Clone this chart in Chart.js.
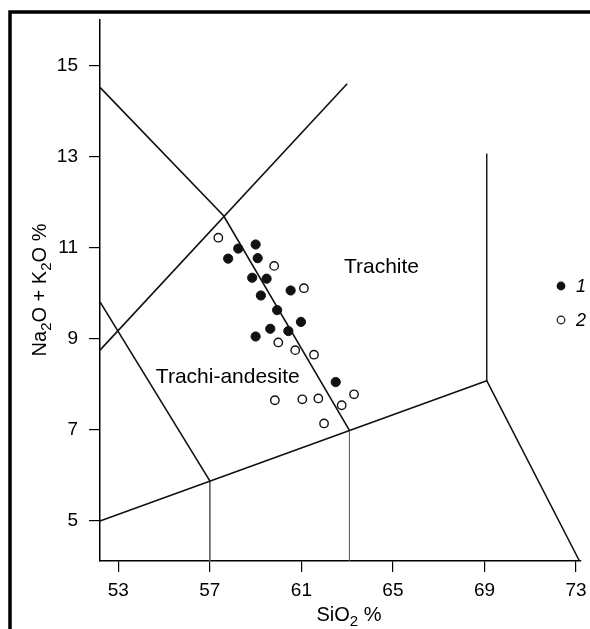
<!DOCTYPE html>
<html>
<head>
<meta charset="utf-8">
<script src="https://cdn.jsdelivr.net/npm/chart.js@4.4.1/dist/chart.umd.min.js"></script>
<style>
    html, body { margin: 0; padding: 0; background: #fff; }
    #wrap { width: 590px; height: 629px; }
</style>
</head>
<body>
<div id="wrap"><canvas id="tasChart" width="590" height="629"></canvas></div>
<script>
/**
 * SiO2 vs Na2O + K2O classification diagram
 */

const FONT = '"Liberation Sans", Arial, sans-serif';

// Tick labels
const xTicks = [53, 57, 61, 65, 69, 73];
const yTicks = [5, 7, 9, 11, 13, 15];

// Samples (SiO2 %, Na2O + K2O %)
const seriesLabels = ['1', '2'];
const group1SiO2 = [58.24, 59.0, 57.8, 59.09, 58.85, 59.48, 60.53, 59.23, 59.94, 60.98, 59.64, 60.43, 59.0, 62.5];
const group1Alk  = [10.98, 11.07, 10.76, 10.77, 10.34, 10.32, 10.06, 9.95, 9.63, 9.37, 9.22, 9.17, 9.05, 8.05];
const group2SiO2 = [57.37, 59.81, 61.11, 59.99, 60.73, 61.55, 63.3, 62.76, 59.84, 61.04, 61.74, 61.99];
const group2Alk  = [11.22, 10.6, 10.11, 8.92, 8.75, 8.65, 7.78, 7.54, 7.65, 7.67, 7.69, 7.14];

// Field boundaries, vertices as [SiO2, Na2O + K2O]
const boundaryUpper = [[52.2, 14.52], [57.6, 11.7], [63.1, 6.99]];
const boundaryRising = [[52.2, 8.75], [63.0, 14.6]];
const boundaryLeft = [[52.2, 9.81], [57.0, 5.88]];
const boundaryLower = [[52.2, 5.0], [69.1, 8.08], [73.15, 4.12]];
const boundaryRight = [[69.1, 13.07], [69.1, 8.08]];
const dropLines = [[[57.0, 5.88], [57.0, 4.12]], [[63.1, 6.99], [63.1, 4.12]]];

// Field names
const fieldNames = ['Trachite', 'Trachi-andesite'];
const fieldAnchors = [[62.86, 10.44], [54.64, 8.02]];

function toPoints(xs, ys) {
    return xs.map((x, i) => ({ x: x, y: ys[i] }));
}

function toLine(verts) {
    return verts.map(v => ({ x: v[0], y: v[1] }));
}

function lineDataset(verts, color, width) {
    return {
        type: 'scatter',
        data: toLine(verts),
        showLine: true,
        borderColor: color,
        borderWidth: width,
        pointRadius: 0,
        fill: false,
        tension: 0,
        clip: false
    };
}

// draws text with subscripts, centred on x=0 of the current transform
function drawRich(ctx, parts, size, baseline) {
    const subSize = Math.round(size * 0.75);
    let total = 0;
    parts.forEach(p => {
        ctx.font = `${p[1] ? subSize : size}px ${FONT}`;
        total += ctx.measureText(p[0]).width;
    });
    let x = -total / 2;
    ctx.textAlign = 'left';
    ctx.textBaseline = 'alphabetic';
    parts.forEach(p => {
        ctx.font = `${p[1] ? subSize : size}px ${FONT}`;
        ctx.fillText(p[0], x, baseline + (p[1] ? 5 : 0));
        x += ctx.measureText(p[0]).width;
    });
}

const annotate = {
    id: 'annotate',
    beforeDraw(chart) {
        const ctx = chart.ctx;
        ctx.save();
        ctx.fillStyle = '#fff';
        ctx.fillRect(0, 0, chart.width, chart.height);
        // scanned frame, top and left edges
        ctx.strokeStyle = '#000';
        ctx.lineWidth = 3.5;
        ctx.beginPath();
        ctx.moveTo(10, chart.height);
        ctx.lineTo(10, 12);
        ctx.lineTo(chart.width, 12);
        ctx.stroke();
        ctx.restore();
    },
    afterDraw(chart) {
        const ctx = chart.ctx;
        const xs = chart.scales.x, ys = chart.scales.y;
        ctx.save();
        ctx.fillStyle = '#000';

        // axis titles
        ctx.save();
        ctx.translate(349, 0);
        drawRich(ctx, [['SiO', 0], ['2', 1], [' %', 0]], 20, 621);
        ctx.restore();

        ctx.save();
        ctx.translate(46, 290);
        ctx.rotate(-Math.PI / 2);
        drawRich(ctx, [['Na', 0], ['2', 1], ['O + K', 0], ['2', 1], ['O %', 0]], 20, 0);
        ctx.restore();

        // field names
        ctx.font = `21px ${FONT}`;
        ctx.textAlign = 'left';
        ctx.textBaseline = 'alphabetic';
        fieldNames.forEach((name, i) => {
            ctx.fillText(name, xs.getPixelForValue(fieldAnchors[i][0]), ys.getPixelForValue(fieldAnchors[i][1]));
        });

        // legend
        const rows = [286, 320];
        seriesLabels.forEach((label, i) => {
            const ds = chart.data.datasets[i];
            ctx.beginPath();
            ctx.arc(561, rows[i], 3.8, 0, Math.PI * 2);
            ctx.fillStyle = ds.backgroundColor;
            ctx.fill();
            ctx.lineWidth = 1.2;
            ctx.strokeStyle = ds.borderColor;
            ctx.stroke();
            ctx.fillStyle = '#000';
            ctx.font = `italic 18px ${FONT}`;
            ctx.textBaseline = 'middle';
            ctx.fillText(label, 576, rows[i] + 1);
        });
        ctx.restore();
    }
};

function axisOptions(min, max, ticks, isX) {
    return {
        type: 'linear',
        min: min,
        max: max,
        afterBuildTicks: s => { s.ticks = ticks.map(v => ({ value: v })); },
        afterFit: s => {
            if (isX) {
                s.height = 68;
                s.paddingLeft = 0;
                s.paddingRight = 0;
            } else {
                s.width = 100;
                s.paddingTop = 0;
                s.paddingBottom = 0;
            }
        },
        grid: { drawOnChartArea: false, drawTicks: true, tickLength: 11, color: '#000', lineWidth: 1.2 },
        border: { display: true, color: '#000', width: 1.5 },
        ticks: {
            color: '#000',
            font: { size: 19, family: FONT },
            padding: isX ? 7 : 11,
            maxRotation: 0,
            autoSkip: false
        }
    };
}

function initTasChart() {
    const ctx = document.getElementById('tasChart');
    const datasets = [
        {
            label: seriesLabels[0],
            data: toPoints(group1SiO2, group1Alk),
            backgroundColor: '#111',
            borderColor: '#111',
            borderWidth: 1,
            pointRadius: 4.6
        },
        {
            label: seriesLabels[1],
            data: toPoints(group2SiO2, group2Alk),
            backgroundColor: '#fff',
            borderColor: '#111',
            borderWidth: 1.4,
            pointRadius: 4.2
        },
        lineDataset(boundaryUpper, '#111', 1.6),
        lineDataset(boundaryRising, '#111', 1.6),
        lineDataset(boundaryLeft, '#111', 1.6),
        lineDataset(boundaryLower, '#111', 1.6),
        lineDataset(boundaryRight, '#111', 1.4),
        ...dropLines.map(d => lineDataset(d, '#666', 1))
    ];
    // draw points over boundaries
    datasets[0].order = 0;
    datasets[1].order = 0;
    for (let i = 2; i < datasets.length; i++) datasets[i].order = 1;

    new Chart(ctx, {
        type: 'scatter',
        data: { datasets: datasets },
        options: {
            responsive: false,
            animation: false,
            devicePixelRatio: 1,
            events: [],
            layout: { padding: { left: 0, top: 20, right: 9.4, bottom: 0 } },
            plugins: { legend: { display: false }, tooltip: { enabled: false } },
            scales: {
                x: axisOptions(52.2, 73.2, xTicks, true),
                y: axisOptions(4.12, 16, yTicks, false)
            }
        },
        plugins: [annotate]
    });
}

document.addEventListener('DOMContentLoaded', initTasChart);
</script>
</body>
</html>
